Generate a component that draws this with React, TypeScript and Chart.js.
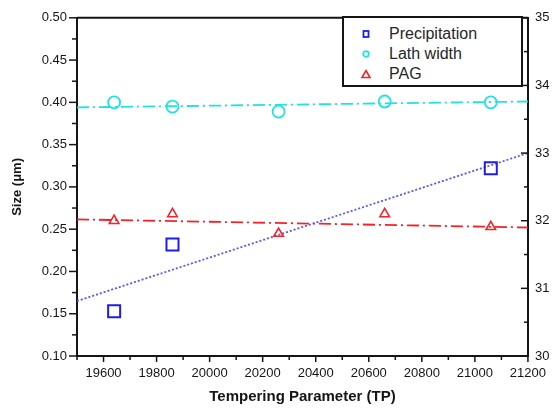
import React, { useEffect, useRef } from 'react';
import { Chart, registerables } from 'chart.js';

Chart.register(...registerables);

// Data
const tpPrecip = [19640, 19860, 21060];
const precipSize = [0.153, 0.232, 0.322];
const tpLath = [19640, 19860, 20260, 20660, 21060];
const lathWidth = [0.4, 0.395, 0.389, 0.401, 0.4];
const tpPag = [19640, 19860, 20260, 20660, 21060];
const pagSize = [32.0, 32.1, 31.81, 32.1, 31.91];
const fitTp = [19500, 21200];
const precipFit = [0.165, 0.34];
const lathFit = [0.394, 0.401];
const pagFit = [32.02, 31.9];

const legendLabels = ['Precipitation', 'Lath width', 'PAG'];

const BLUE = '#1c1cf0';
const CYAN = '#1ee3e3';
const RED = '#f5222a';
const INK = '#151515';
const FONT = "'Liberation Sans', Arial, sans-serif";

const toPts = (xs: number[], ys: number[]) => xs.map((x, i) => ({ x, y: ys[i] }));

const tickPlugin = {
  id: 'tickMarks',
  afterDraw(chart: any) {
    const { ctx, chartArea: a, scales } = chart;
    ctx.save();
    ctx.strokeStyle = INK;
    ctx.lineWidth = 1.5;
    const seg = (x1: number, y1: number, x2: number, y2: number) => {
      ctx.beginPath();
      ctx.moveTo(x1, y1);
      ctx.lineTo(x2, y2);
      ctx.stroke();
    };
    scales.x.ticks.forEach((t: any) => {
      const px = scales.x.getPixelForValue(t.value);
      const major = Math.round(t.value) % 200 === 0;
      seg(px, a.bottom, px, a.bottom + (major ? 6 : 4));
    });
    scales.y.ticks.forEach((t: any) => {
      const py = scales.y.getPixelForValue(t.value);
      const major = Math.round(t.value * 1000) % 50 === 0;
      seg(a.left - (major ? 8 : 5), py, a.left, py);
    });
    scales.y2.ticks.forEach((t: any) => {
      const py = scales.y2.getPixelForValue(t.value);
      const major = Math.abs(t.value - Math.round(t.value)) < 1e-6;
      seg(a.right - (major ? 7 : 4), py, a.right, py);
    });
    ctx.lineWidth = 2;
    seg(a.left, a.top, a.right, a.top);
    ctx.restore();
  },
};

function LegendMarker({ kind }: { kind: number }) {
  return (
    <svg width="12" height="12" viewBox="0 0 12 12" style={{ display: 'block' }}>
      {kind === 0 && <rect x="3.5" y="3" width="5" height="6" fill="none" stroke={BLUE} strokeWidth="1.8" />}
      {kind === 1 && <circle cx="6" cy="6" r="2.8" fill="none" stroke={CYAN} strokeWidth="1.8" />}
      {kind === 2 && <polygon points="6,2.5 10,9.5 2,9.5" fill="none" stroke={RED} strokeWidth="1.6" />}
    </svg>
  );
}

export default function App() {
  const canvasRef = useRef<HTMLCanvasElement | null>(null);

  useEffect(() => {
    if (!canvasRef.current) return;
    const tickFont = { family: FONT, size: 13 };
    const chart = new Chart(canvasRef.current, {
      type: 'scatter',
      data: {
        datasets: [
          {
            label: 'Precipitation fit',
            data: toPts(fitTp, precipFit),
            showLine: true,
            borderColor: '#5a5ae6',
            borderWidth: 1.8,
            borderDash: [2, 2],
            pointRadius: 0,
            yAxisID: 'y',
            order: 5,
          },
          {
            label: 'Lath width fit',
            data: toPts(fitTp, lathFit),
            showLine: true,
            borderColor: CYAN,
            borderWidth: 1.8,
            borderDash: [12, 4, 2, 4],
            pointRadius: 0,
            yAxisID: 'y',
            order: 5,
          },
          {
            label: 'PAG fit',
            data: toPts(fitTp, pagFit),
            showLine: true,
            borderColor: RED,
            borderWidth: 1.8,
            borderDash: [12, 4, 2, 4],
            pointRadius: 0,
            yAxisID: 'y2',
            order: 5,
          },
          {
            label: legendLabels[0],
            data: toPts(tpPrecip, precipSize),
            pointStyle: 'rect',
            pointRadius: 8.5,
            pointBorderWidth: 2,
            borderColor: BLUE,
            backgroundColor: 'rgba(0,0,0,0)',
            yAxisID: 'y',
            order: 1,
          },
          {
            label: legendLabels[1],
            data: toPts(tpLath, lathWidth),
            pointStyle: 'circle',
            pointRadius: 6,
            pointBorderWidth: 1.8,
            borderColor: CYAN,
            backgroundColor: 'rgba(0,0,0,0)',
            yAxisID: 'y',
            order: 1,
          },
          {
            label: legendLabels[2],
            data: toPts(tpPag, pagSize),
            pointStyle: 'triangle',
            pointRadius: 5.5,
            pointBorderWidth: 1.6,
            borderColor: RED,
            backgroundColor: 'rgba(0,0,0,0)',
            yAxisID: 'y2',
            order: 1,
          },
        ],
      },
      options: {
        animation: false,
        responsive: true,
        maintainAspectRatio: false,
        layout: { padding: { top: 16, left: 0, right: 0, bottom: 0 } },
        plugins: { legend: { display: false }, tooltip: { enabled: false } },
        scales: {
          x: {
            type: 'linear',
            min: 19500,
            max: 21200,
            grid: { display: false, drawTicks: false },
            border: { display: true, color: INK, width: 2 },
            ticks: {
              stepSize: 100,
              autoSkip: false,
              maxRotation: 0,
              padding: 10,
              color: INK,
              font: tickFont,
              callback: (v: any) => (Math.round(v) % 200 === 0 ? String(v) : ''),
            },
            title: {
              display: true,
              text: 'Tempering Parameter (TP)',
              color: INK,
              font: { family: FONT, size: 15, weight: 'bold' },
              padding: { top: 0, bottom: 6 },
            },
            afterFit: (s: any) => {
              s.height = 56;
            },
          },
          y: {
            position: 'left',
            min: 0.1,
            max: 0.5,
            grid: { display: false, drawTicks: false },
            border: { display: true, color: INK, width: 2 },
            ticks: {
              stepSize: 0.025,
              autoSkip: false,
              padding: 10,
              color: INK,
              font: tickFont,
              callback: (v: any) => (Math.round(v * 1000) % 50 === 0 ? Number(v).toFixed(2) : ''),
            },
            title: {
              display: true,
              text: 'Size (μm)',
              color: INK,
              font: { family: FONT, size: 13, weight: 'bold' },
              padding: { top: 10, bottom: 0 },
            },
            afterFit: (s: any) => {
              s.width = 77;
            },
          },
          y2: {
            position: 'right',
            min: 30,
            max: 35,
            grid: { display: false, drawTicks: false },
            border: { display: true, color: INK, width: 2 },
            ticks: {
              stepSize: 0.5,
              autoSkip: false,
              padding: 7,
              color: INK,
              font: tickFont,
              callback: (v: any) => (Math.abs(v - Math.round(v)) < 1e-6 ? String(v) : ''),
            },
            afterFit: (s: any) => {
              s.width = 23;
            },
          },
        },
      },
      plugins: [tickPlugin],
    } as any);
    return () => chart.destroy();
  }, []);

  const rowTops = [8, 28, 47.5];

  return (
    <div style={{ position: 'fixed', left: 0, top: 0, width: 556, height: 412, background: '#fff' }}>
      <canvas ref={canvasRef} width={556} height={412} />
      <div
        style={{
          position: 'absolute',
          left: 342,
          top: 16,
          width: 181,
          height: 71,
          boxSizing: 'border-box',
          border: `2px solid ${INK}`,
          background: '#fff',
          fontFamily: FONT,
          fontSize: 16,
          color: '#262626',
        }}
      >
        {legendLabels.map((label, i) => (
          <div
            key={label}
            style={{ position: 'absolute', left: 0, top: rowTops[i] - 2, height: 20, display: 'flex', alignItems: 'center' }}
          >
            <div style={{ position: 'absolute', left: 16, top: 4 }}>
              <LegendMarker kind={i} />
            </div>
            <span style={{ position: 'absolute', left: 45, top: 0, lineHeight: '20px', whiteSpace: 'nowrap' }}>{label}</span>
          </div>
        ))}
      </div>
    </div>
  );
}
